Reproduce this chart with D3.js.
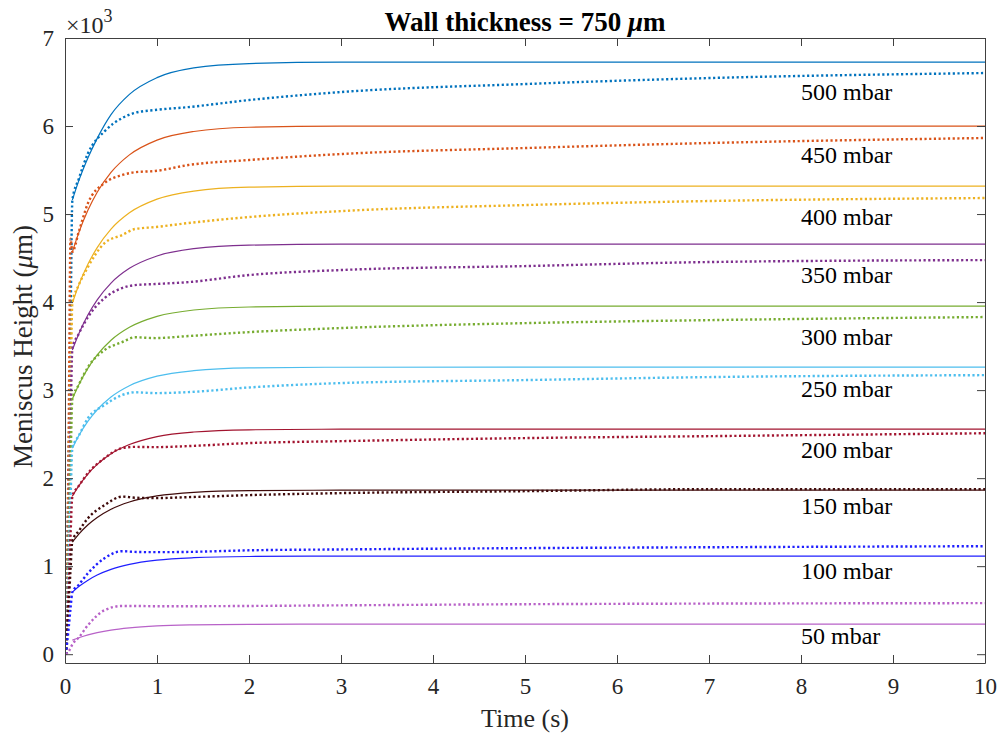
<!DOCTYPE html>
<html>
<head>
<meta charset="utf-8">
<script src="https://cdn.jsdelivr.net/npm/d3@7"></script>
<style>
  body { margin: 0; background: #fff; }
  svg { display: block; font-family: "Liberation Serif", "Times New Roman", serif; }
  .axis path, .axis line { stroke: #404040; stroke-width: 1; }
  .axis text { fill: #262626; font-size: 23px; font-family: "Liberation Serif", serif; }
  .expo { font-size: 24px; fill: #262626; }
  .expo .sup { font-size: 18px; }
</style>
</head>
<body>
<svg id="chart" width="1000" height="738"></svg>
<script>
// meniscus height vs time, wall thickness 750 um
// solid = model, dotted = experiment

var pressureLabels = ['500 mbar', '450 mbar', '400 mbar', '350 mbar', '300 mbar',
  '250 mbar', '200 mbar', '150 mbar', '100 mbar', '50 mbar'];
var lineColors = ['#0072BD', '#D95319', '#EDB120', '#7E2F8E', '#77AC30',
  '#4DBEEE', '#A2142F', '#3F0A0A', '#1F1FFF', '#B862C8'];

// model curves (solid), time in s
var timeModel = [0.08, 0.15, 0.25, 0.35, 0.5, 0.7, 1.0, 1.4, 2.0, 3.0, 10];
var model500 = [5160, 5380, 5640, 5860, 6130, 6360, 6550, 6660, 6710, 6725, 6727];
var model450 = [4568, 4789, 5045, 5247, 5473, 5672, 5840, 5938, 5986, 5998, 6000];
var model400 = [3989, 4194, 4432, 4619, 4829, 5014, 5169, 5261, 5305, 5317, 5318];
var model350 = [3455, 3640, 3856, 4026, 4216, 4383, 4524, 4607, 4647, 4658, 4659];
var model300 = [2898, 3061, 3250, 3399, 3566, 3713, 3837, 3910, 3944, 3954, 3955];
var model250 = [2341, 2483, 2647, 2777, 2922, 3050, 3158, 3221, 3252, 3260, 3261];
var model200 = [1795, 1912, 2049, 2156, 2277, 2382, 2472, 2524, 2549, 2556, 2557];
var model150 = [1273, 1364, 1470, 1553, 1647, 1729, 1798, 1839, 1858, 1863, 1864];
var model100 = [705, 768, 841, 899, 963, 1020, 1068, 1096, 1110, 1114, 1114];
var model50 = [159, 187, 220, 245, 274, 299, 321, 333, 339, 341, 341];

// experimental curves (dotted)
var timeExp = [0.01, 0.04, 0.06, 0.08, 0.15, 0.25, 0.43, 0.62, 0.76, 0.98, 1.34, 2, 3, 5, 7, 10];
var exp500 = [0, 2200, 3700, 5160, 5400, 5690, 5940, 6090, 6150, 6182, 6215, 6295, 6386, 6477, 6545, 6602];
var exp450 = [0, 2500, 4720, 4570, 4800, 5125, 5352, 5443, 5475, 5489, 5557, 5614, 5682, 5750, 5807, 5864];
var exp400 = [0, 1700, 2900, 3989, 4194, 4400, 4670, 4761, 4830, 4852, 4898, 4966, 5034, 5102, 5148, 5182];
var exp350 = [0, 1500, 2600, 3470, 3640, 3830, 4045, 4159, 4193, 4205, 4227, 4307, 4364, 4409, 4455, 4477];
var exp300 = [0, 1250, 2150, 2900, 3061, 3261, 3455, 3545, 3600, 3591, 3614, 3659, 3705, 3761, 3795, 3830];
var exp250 = [0, 1000, 1750, 2340, 2483, 2682, 2830, 2943, 2975, 2966, 2977, 3030, 3080, 3114, 3148, 3170];
var exp200 = [0, 780, 1350, 1795, 1912, 2057, 2227, 2341, 2355, 2352, 2364, 2398, 2420, 2455, 2477, 2510];
var exp150 = [0, 560, 960, 1290, 1400, 1545, 1693, 1790, 1778, 1773, 1784, 1807, 1830, 1852, 1875, 1875];
var exp100 = [0, 300, 520, 705, 790, 920, 1091, 1170, 1162, 1159, 1162, 1180, 1190, 1205, 1215, 1227];
var exp50 = [0, 30, 70, 110, 190, 330, 500, 548, 548, 545, 545, 548, 555, 568, 575, 580];

// label anchors in data units (left edge time, baseline height)
var labelTime = 8.0;
var labelHeight = [6298, 5580, 4876, 4217, 3513, 2922, 2229, 1593, 855, 116];

var xTicks = [0, 1, 2, 3, 4, 5, 6, 7, 8, 9, 10];
var yTicks = [0, 1000, 2000, 3000, 4000, 5000, 6000, 7000];

(function () {
  'use strict';
  var models = [model500, model450, model400, model350, model300, model250, model200, model150, model100, model50];
  var exps = [exp500, exp450, exp400, exp350, exp300, exp250, exp200, exp150, exp100, exp50];

  var left = 65, right = 985, top = 38, bottom = 663;
  var svg = d3.select('#chart');

  var x = d3.scaleLinear().domain([0, 10]).range([left, right]);
  var y = d3.scaleLinear().domain([-100, 7000]).range([bottom, top]);

  svg.append('rect').attr('width', 1000).attr('height', 738).attr('fill', '#fff');

  svg.append('defs').append('clipPath').attr('id', 'plotClip')
    .append('rect').attr('x', left).attr('y', top).attr('width', right - left).attr('height', bottom - top);

  var zip = function (ts, vs) { return ts.map(function (t, i) { return [t, vs[i]]; }); };
  var line = d3.line()
    .x(function (d) { return x(d[0]); })
    .y(function (d) { return y(d[1]); })
    .curve(d3.curveMonotoneX);

  var plot = svg.append('g').attr('clip-path', 'url(#plotClip)');

  pressureLabels.forEach(function (p, i) {
    plot.append('path')
      .datum(zip(timeModel, models[i]))
      .attr('d', line)
      .attr('fill', 'none')
      .attr('stroke', lineColors[i])
      .attr('stroke-width', 1.2);
    plot.append('path')
      .datum(zip(timeExp, exps[i]))
      .attr('d', line)
      .attr('fill', 'none')
      .attr('stroke', lineColors[i])
      .attr('stroke-width', 2.4)
      .attr('stroke-dasharray', '2.2,2.5');
  });

  // text labels next to each pair of curves
  svg.selectAll('text.plabel')
    .data(pressureLabels)
    .enter().append('text')
    .attr('class', 'plabel')
    .attr('x', x(labelTime))
    .attr('y', function (d, i) { return y(labelHeight[i]); })
    .attr('font-size', 24)
    .attr('fill', '#000')
    .text(function (d) { return d; });

  //------------------------------ axes (ticks inward, box on) ------------------------------//
  svg.append('g').attr('class', 'axis')
    .attr('transform', 'translate(0,' + bottom + ')')
    .call(d3.axisBottom(x).tickValues(xTicks).tickFormat(d3.format('d'))
      .tickSize(-8).tickSizeOuter(0).tickPadding(15));
  svg.append('g').attr('class', 'axis')
    .attr('transform', 'translate(0,' + top + ')')
    .call(d3.axisTop(x).tickValues(xTicks).tickFormat('').tickSize(-8).tickSizeOuter(0));
  svg.append('g').attr('class', 'axis')
    .attr('transform', 'translate(' + left + ',0)')
    .call(d3.axisLeft(y).tickValues(yTicks).tickFormat(function (d) { return d / 1000; })
      .tickSize(-8).tickSizeOuter(0).tickPadding(11));
  svg.append('g').attr('class', 'axis')
    .attr('transform', 'translate(' + right + ',0)')
    .call(d3.axisRight(y).tickValues(yTicks).tickFormat('').tickSize(-8).tickSizeOuter(0));

  // exponent marker
  var expo = svg.append('text').attr('class', 'expo').attr('x', 66).attr('y', 33);
  expo.append('tspan').text('\u00d7');
  expo.append('tspan').text('10');
  expo.append('tspan').attr('class', 'sup').attr('dy', -11).text('3');

  // title
  var title = svg.append('text')
    .attr('x', (left + right) / 2).attr('y', 31)
    .attr('text-anchor', 'middle')
    .attr('font-size', 27).attr('font-weight', 'bold').attr('fill', '#000');
  title.append('tspan').text('Wall thickness = 750 ');
  title.append('tspan').attr('font-style', 'italic').text('\u03bc');
  title.append('tspan').text('m');

  // axis labels
  svg.append('text')
    .attr('x', (left + right) / 2).attr('y', 727)
    .attr('text-anchor', 'middle')
    .attr('font-size', 26).attr('fill', '#262626')
    .text('Time (s)');

  var ylab = svg.append('text')
    .attr('transform', 'translate(32,' + ((top + bottom) / 2 - 4) + ') rotate(-90)')
    .attr('text-anchor', 'middle')
    .attr('font-size', 27).attr('fill', '#262626');
  ylab.append('tspan').text('Meniscus Height (');
  ylab.append('tspan').attr('font-style', 'italic').text('\u03bc');
  ylab.append('tspan').text('m)');
})();
</script>
</body>
</html>
